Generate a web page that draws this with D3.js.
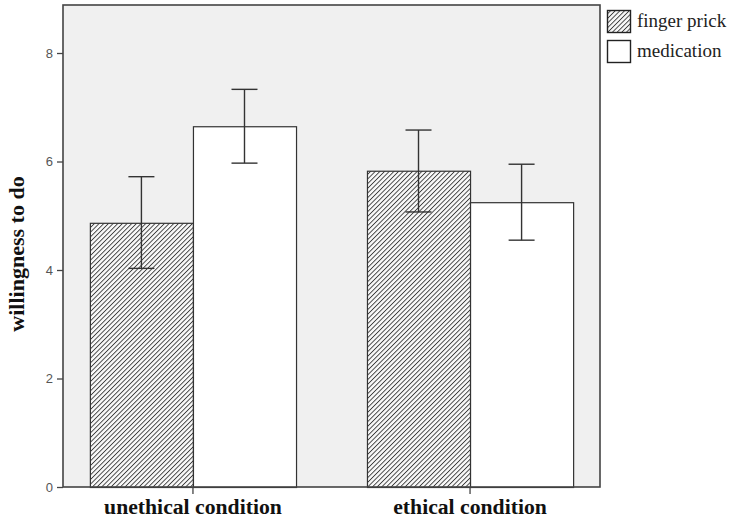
<!DOCTYPE html>
<html><head><meta charset="utf-8">
<script src="https://cdn.jsdelivr.net/npm/d3@7"></script>
<style>body{margin:0;background:#fff}svg{display:block}</style>
</head><body>
<svg id="chart" width="739" height="519"></svg>
<script>
const categories = ["unethical condition", "ethical condition"];
const seriesNames = ["finger prick", "medication"];
const fingerPrick = [4.87, 5.83];
const fingerPrickLow = [4.03, 5.07];
const fingerPrickHigh = [5.72, 6.58];
const medication = [6.65, 5.25];
const medicationLow = [5.97, 4.55];
const medicationHigh = [7.33, 5.95];
const yTicks = [0, 2, 4, 6, 8];

const svg = d3.select("#chart");
const L = 63, R = 600, T = 5, B = 487;

const defs = svg.append("defs");
const pw = 3.3;
const pat = defs.append("pattern").attr("id","hatch").attr("patternUnits","userSpaceOnUse")
  .attr("width",pw).attr("height",pw).attr("patternTransform","rotate(45)");
pat.append("rect").attr("width",pw).attr("height",pw).attr("fill","#fafafa");
pat.append("line").attr("x1",0).attr("y1",0).attr("x2",0).attr("y2",pw)
  .attr("stroke","#3a3a3a").attr("stroke-width",1.8);

const x = d3.scaleBand().domain(categories).range([L, R]).paddingInner(0.256).paddingOuter(0.097);
const xs = d3.scaleBand().domain(seriesNames).range([0, x.bandwidth()]);
const y = d3.scaleLinear().domain([0, 8.885]).range([B, T]);

svg.append("rect").attr("x",L).attr("y",T).attr("width",R-L).attr("height",B-T).attr("fill","#f0f0f0");

const rows = categories.map((c,i)=>[
  {cat:c, s:seriesNames[0], v:fingerPrick[i], lo:fingerPrickLow[i], hi:fingerPrickHigh[i]},
  {cat:c, s:seriesNames[1], v:medication[i], lo:medicationLow[i], hi:medicationHigh[i]}
]).flat();

const fills = {"finger prick":"url(#hatch)", "medication":"#fff"};

svg.selectAll("rect.bar").data(rows).join("rect").attr("class","bar")
  .attr("x", d=>x(d.cat)+xs(d.s)+0.5).attr("y", d=>y(d.v)+0.5)
  .attr("width", xs.bandwidth()).attr("height", d=>B-y(d.v))
  .attr("fill", d=>fills[d.s]).attr("stroke","#333").attr("stroke-width",1.2);

const cap = 13;
const eb = svg.selectAll("g.eb").data(rows).join("g").attr("class","eb")
  .attr("stroke","#333").attr("stroke-width",1.4);
eb.append("line").attr("x1",d=>x(d.cat)+xs(d.s)+xs.bandwidth()/2).attr("x2",d=>x(d.cat)+xs(d.s)+xs.bandwidth()/2)
  .attr("y1",d=>y(d.lo)).attr("y2",d=>y(d.hi));
eb.append("line").attr("x1",d=>x(d.cat)+xs(d.s)+xs.bandwidth()/2-cap).attr("x2",d=>x(d.cat)+xs(d.s)+xs.bandwidth()/2+cap)
  .attr("y1",d=>y(d.lo)).attr("y2",d=>y(d.lo));
eb.append("line").attr("x1",d=>x(d.cat)+xs(d.s)+xs.bandwidth()/2-cap).attr("x2",d=>x(d.cat)+xs(d.s)+xs.bandwidth()/2+cap)
  .attr("y1",d=>y(d.hi)).attr("y2",d=>y(d.hi));

// frame
svg.append("rect").attr("x",L).attr("y",T).attr("width",R-L).attr("height",B-T)
  .attr("fill","none").attr("stroke","#444").attr("stroke-width",1.6);

// y axis
const ya = svg.append("g").attr("transform",`translate(${L},0)`)
  .call(d3.axisLeft(y).tickValues(yTicks).tickSize(6).tickPadding(4).tickFormat(d3.format("d")));
ya.select(".domain").remove();
ya.selectAll("line").attr("stroke","#444").attr("stroke-width",1.3);
ya.selectAll("text").attr("font-family","Liberation Sans, Arial, sans-serif").attr("font-size",13).attr("fill","#555");

// x axis
const xa = svg.append("g").attr("transform",`translate(0,${B})`)
  .call(d3.axisBottom(x).tickSize(7).tickFormat(()=>""));
xa.select(".domain").remove();
xa.selectAll("line").attr("stroke","#444").attr("stroke-width",1.3);
svg.selectAll("text.cat").data(categories).join("text").attr("class","cat")
  .attr("x", d=>x(d)+x.bandwidth()/2).attr("y", 514).attr("text-anchor","middle")
  .attr("font-family","Liberation Serif, Times New Roman, serif")
  .attr("font-size",21.7).attr("font-weight","bold").attr("fill","#111").text(d=>d);

// y label
svg.append("text").attr("transform",`translate(24,254) rotate(-90)`)
  .attr("text-anchor","middle").attr("font-family","Liberation Serif, Times New Roman, serif")
  .attr("font-size",22).attr("font-weight","bold").attr("fill","#111").text("willingness to do");

// legend
const lg = svg.append("g");
seriesNames.forEach((s,i)=>{
  lg.append("rect").attr("x",607.5).attr("y",10.5+i*30).attr("width",23).attr("height",22)
    .attr("fill",fills[s]).attr("stroke","#222").attr("stroke-width",1.4);
  lg.append("text").attr("x",637).attr("y",27+i*30).attr("font-family","Liberation Serif, Times New Roman, serif")
    .attr("font-size",19).attr("fill","#222").text(s);
});
</script>
</body></html>
